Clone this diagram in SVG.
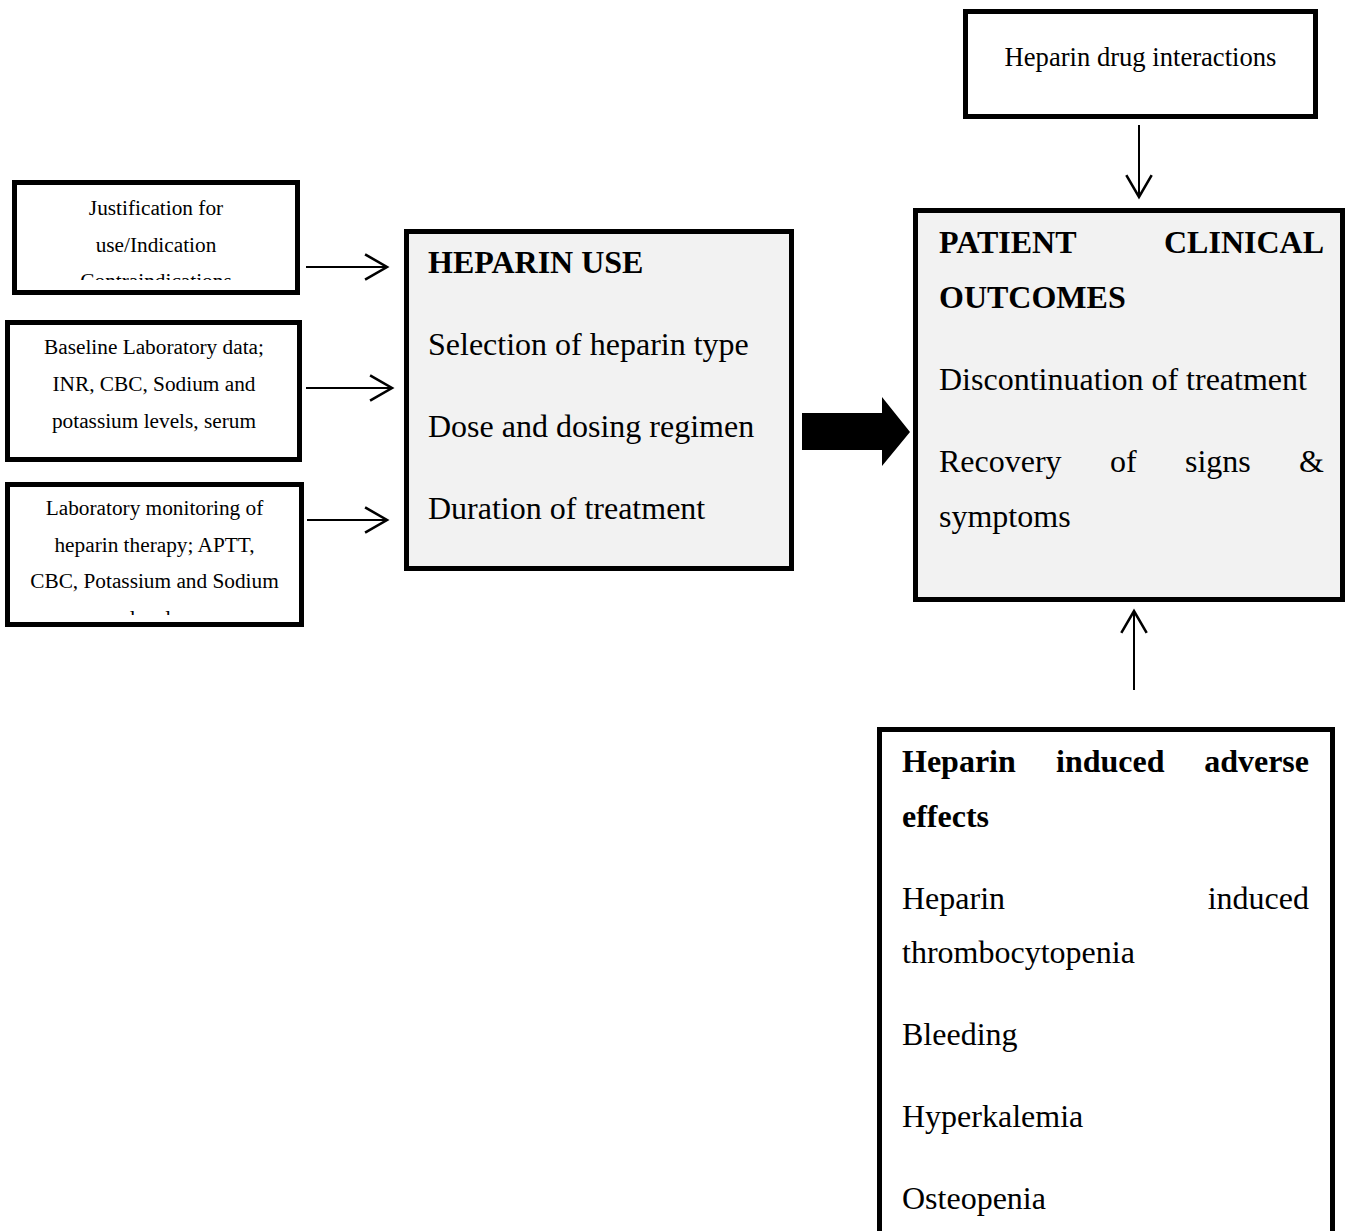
<svg xmlns="http://www.w3.org/2000/svg" width="1345" height="1231" viewBox="0 0 1345 1231">
<style>
  .box { stroke: #000; stroke-width: 5; fill: #fff; }
  .grey { fill: #f2f2f2; }
  .sm { font-family: "Liberation Serif", "Times New Roman", serif; font-size: 21.3px; fill: #000; text-anchor: middle; }
  .lg { font-family: "Liberation Serif", "Times New Roman", serif; font-size: 32px; fill: #000; }
  .b { font-weight: bold; }
  .end { text-anchor: end; }
  .conn { stroke: #000; stroke-width: 2; fill: none; }
</style>
<defs>
  <marker id="vhead" markerUnits="userSpaceOnUse" markerWidth="30" markerHeight="30" viewBox="-22 -13 24 26" refX="0" refY="0" orient="auto">
    <path d="M-19,-11 L0,0 L-19,11" fill="none" stroke="#000" stroke-width="2.2"/>
  </marker>
  <clipPath id="clip1"><rect x="17" y="185" width="278" height="95"/></clipPath>
  <clipPath id="clip3"><rect x="10" y="487" width="289" height="128"/></clipPath>
</defs>
<rect width="1345" height="1231" fill="#fff"/>

<g id="justification">
  <rect class="box" x="14.5" y="182.5" width="283" height="110"/>
  <g clip-path="url(#clip1)">
    <text class="sm" x="156" y="215">Justification for</text>
    <text class="sm" x="156" y="251.5">use/Indication</text>
    <text class="sm" x="156" y="288">Contraindications</text>
  </g>
</g>

<g id="baseline-lab">
  <rect class="box" x="7.5" y="322.5" width="292" height="137"/>
  <text class="sm" x="154" y="354">Baseline Laboratory data;</text>
  <text class="sm" x="154" y="391">INR, CBC, Sodium and</text>
  <text class="sm" x="154" y="427.5">potassium levels, serum</text>
</g>

<g id="lab-monitoring">
  <rect class="box" x="7.5" y="484.5" width="294" height="140"/>
  <g clip-path="url(#clip3)">
    <text class="sm" x="154.5" y="515">Laboratory monitoring of</text>
    <text class="sm" x="154.5" y="551.5">heparin therapy; APTT,</text>
    <text class="sm" x="154.5" y="588">CBC, Potassium and Sodium</text>
    <text class="sm" x="154.5" y="624.5">levels</text>
  </g>
</g>

<g id="heparin-use">
  <rect class="box grey" x="406.5" y="231.5" width="385" height="337"/>
  <text class="lg b" x="428" y="273">HEPARIN USE</text>
  <text class="lg" x="428" y="355">Selection of heparin type</text>
  <text class="lg" x="428" y="437">Dose and dosing regimen</text>
  <text class="lg" x="428" y="519">Duration of treatment</text>
</g>

<g id="drug-interactions">
  <rect class="box" x="965.5" y="11.5" width="350" height="105"/>
  <text class="sm" style="font-size:26.6px" x="1140.5" y="66">Heparin drug interactions</text>
</g>

<g id="clinical-outcomes">
  <rect class="box grey" x="915.5" y="210.5" width="427" height="389"/>
  <text class="lg b" x="939" y="253">PATIENT</text>
  <text class="lg b end" x="1324" y="253">CLINICAL</text>
  <text class="lg b" x="939" y="308">OUTCOMES</text>
  <text class="lg" x="939" y="390">Discontinuation of treatment</text>
  <text class="lg" x="939" y="472">Recovery</text>
  <text class="lg" x="1110" y="472">of</text>
  <text class="lg" x="1185" y="472">signs</text>
  <text class="lg end" x="1324" y="472">&amp;</text>
  <text class="lg" x="939" y="527">symptoms</text>
</g>

<g id="adverse-effects">
  <rect class="box" x="879.5" y="729.5" width="453" height="600"/>
  <text class="lg b" x="902" y="772">Heparin</text>
  <text class="lg b" x="1056" y="772">induced</text>
  <text class="lg b end" x="1309" y="772">adverse</text>
  <text class="lg b" x="902" y="827">effects</text>
  <text class="lg" x="902" y="909">Heparin</text>
  <text class="lg end" x="1309" y="909">induced</text>
  <text class="lg" x="902" y="963">thrombocytopenia</text>
  <text class="lg" x="902" y="1045">Bleeding</text>
  <text class="lg" x="902" y="1127">Hyperkalemia</text>
  <text class="lg" x="902" y="1209">Osteopenia</text>
</g>

<g id="connectors">
  <line class="conn" x1="306" y1="267" x2="387" y2="267" marker-end="url(#vhead)"/>
  <line class="conn" x1="306" y1="388" x2="392" y2="388" marker-end="url(#vhead)"/>
  <line class="conn" x1="307" y1="520" x2="387" y2="520" marker-end="url(#vhead)"/>
  <line class="conn" x1="1139" y1="125" x2="1139" y2="197" marker-end="url(#vhead)"/>
  <line class="conn" x1="1134" y1="690" x2="1134" y2="611" marker-end="url(#vhead)"/>
  <polygon points="802,413 882,413 882,397 910,432 882,466 882,450 802,450" fill="#000"/>
</g>
</svg>
